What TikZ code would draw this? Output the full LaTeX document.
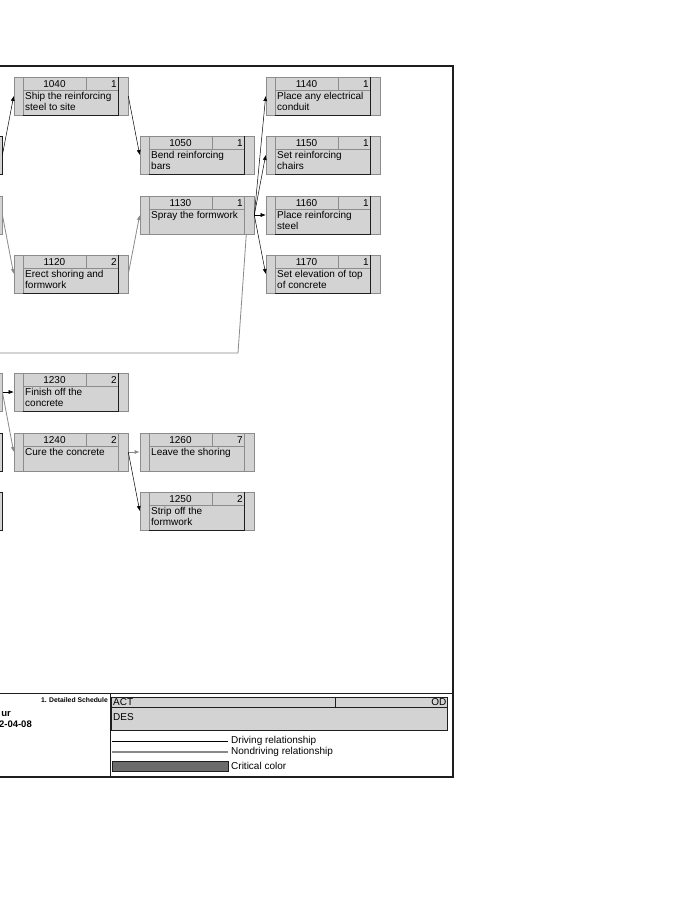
\documentclass[tikz,border=0pt]{standalone}
\usepackage{fontspec}
\setmainfont{Liberation Sans}
\usetikzlibrary{arrows.meta,calc}
\definecolor{boxfill}{HTML}{D3D3D3}
\definecolor{boxline}{HTML}{8C8C8C}
\definecolor{darkline}{HTML}{1E1E1E}
\definecolor{ndline}{HTML}{8A8A8A}
\definecolor{critcol}{HTML}{6B6B6B}
\tikzset{
  actbox/.style={draw=boxline, fill=boxfill, rectangle, minimum width=114pt, minimum height=38pt, inner sep=0pt, line width=0.6pt},
  stubbox/.style={fill=boxfill, rectangle, minimum width=114pt, minimum height=38pt, inner sep=0pt, line width=0.8pt},
  inline/.style={draw=boxline, line width=0.6pt},
  idtext/.style={inner sep=0pt, anchor=center, font=\fontsize{10}{11}\selectfont},
  durtext/.style={inner sep=0pt, anchor=east, font=\fontsize{10}{11}\selectfont},
  desctext/.style={inner sep=0pt, anchor=north west, align=left, font=\fontsize{10}{11}\selectfont},
  drive/.style={draw=black, line width=0.5pt, -{Latex[length=5pt,width=4pt]}},
  nondrive/.style={draw=ndline, line width=0.8pt, -{Latex[length=5pt,width=4pt]}},
  frameline/.style={draw=darkline, line width=1.3pt},
  sepline/.style={draw=darkline, line width=0.8pt},
  legtext/.style={inner sep=0pt, anchor=west, font=\fontsize{10}{11}\selectfont},
}
\newcommand\actv[7]{%
  \node[actbox] (#1) at (#2+57,#3+19) {};
  \draw[inline] (#2+9,#3) -- (#2+9,#3+38);
  \draw[inline] (#2+104,#3) -- (#2+104,#3+38);
  \draw[inline] (#2+9,#3+13) -- (#2+104,#3+13);
  \draw[inline] (#2+72,#3) -- (#2+72,#3+13);
  \draw[draw=#7, line width=1pt] (#2+9,#3+38) -- (#2+104,#3+38) -- (#2+104,#3);
  \node[idtext] (#1-id) at (#2+40.5,#3+6.6) {#4};
  \node[durtext] (#1-dur) at (#2+103,#3+6.6) {#5};
  \node[desctext] (#1-desc) at (#2+11,#3+15.5) {#6};
}
\begin{document}
\begin{tikzpicture}[x=1pt,y=-1pt]
\useasboundingbox (0,0) rectangle (700,900);
\fill[white] (0,0) rectangle (700,900);
\clip (0,0) rectangle (700,900);

% frame
\draw[frameline] (-5,66) -- (453,66) -- (453,777) -- (-5,777);
\draw[sepline] (-5,693) -- (453,693);
\draw[sepline] (110,693) -- (110,777);

% partially visible activities at the left edge
\node[stubbox, draw=darkline] (pa1) at (-55,155) {};
\node[stubbox, draw=boxline] (pa2) at (-55,215) {};
\node[stubbox, draw=boxline] (pa3) at (-55,392) {};
\node[stubbox, draw=darkline] (pa4) at (-55,452) {};
\node[stubbox, draw=darkline] (pa5) at (-55,511) {};

% activities
\actv{b1040}{14}{77}{1040}{1}{Ship the reinforcing\\steel to site}{darkline}
\actv{b1120}{14}{255}{1120}{2}{Erect shoring and\\formwork}{darkline}
\actv{b1230}{14}{373}{1230}{2}{Finish off the\\concrete}{darkline}
\actv{b1240}{14}{433}{1240}{2}{Cure the concrete}{boxline}
\actv{c1050}{140}{136}{1050}{1}{Bend reinforcing\\bars}{darkline}
\actv{c1130}{140}{196}{1130}{1}{Spray the formwork}{boxline}
\actv{c1260}{140}{433}{1260}{7}{Leave the shoring}{boxline}
\actv{c1250}{140}{492}{1250}{2}{Strip off the\\formwork}{darkline}
\actv{d1140}{266}{77}{1140}{1}{Place any electrical\\conduit}{darkline}
\actv{d1150}{266}{136}{1150}{1}{Set reinforcing\\chairs}{darkline}
\actv{d1160}{266}{196}{1160}{1}{Place reinforcing\\steel}{darkline}
\actv{d1170}{266}{255}{1170}{1}{Set elevation of top\\of concrete}{darkline}

% connectors
\draw[drive] (pa1.east) -- (b1040.west);
\draw[nondrive] (pa2.east) -- (b1120.west);
\draw[drive] (b1040.east) -- (c1050.west);
\draw[nondrive] (b1120.east) -- (c1130.west);
\draw[drive] (c1130.east) -- (d1140.west);
\draw[drive] (c1130.east) -- (d1150.west);
\draw[drive] (c1130.east) -- (d1160.west);
\draw[drive] (c1130.east) -- (d1170.west);
\draw[drive] (pa3.east) -- (b1230.west);
\draw[nondrive] (pa3.east) -- (b1240.west);
\draw[nondrive] (b1240.east) -- (c1260.west);
\draw[drive] (b1240.east) -- (c1250.west);
\coordinate (farleft) at (-5,353);
\coordinate (bendpt) at (238,353);
\draw[draw=ndline, line width=0.8pt] (farleft) -- (bendpt) -- ($(c1130.south east)+(-8,0)$);

% footer
\node[inner sep=0pt, anchor=east, font=\bfseries\fontsize{6.8}{8}\selectfont] (ftitle) at (108,700) {1. Detailed Schedule};
\node[inner sep=0pt, anchor=base east, font=\bfseries\fontsize{9.5}{11}\selectfont] (fname) at (11,716) {ur};
\node[inner sep=0pt, anchor=base east, font=\bfseries\fontsize{9.5}{11}\selectfont] (fdate) at (32,727) {2-04-08};

% legend box
\node[draw=darkline, fill=boxfill, rectangle, line width=0.6pt, minimum width=336pt, minimum height=33pt, inner sep=0pt] (legbox) at (279.5,713.5) {};
\draw[draw=darkline, line width=0.5pt] (112,707.5) -- (447,707.5);
\draw[draw=darkline, line width=0.5pt] (335,697) -- (335,707.5);
\node[inner sep=0pt, anchor=west, font=\fontsize{10}{11}\selectfont] (legact) at (113,702.5) {ACT};
\node[inner sep=0pt, anchor=east, font=\fontsize{10}{11}\selectfont] (legod) at (446.5,702.5) {OD};
\node[inner sep=0pt, anchor=west, font=\fontsize{10}{11}\selectfont] (legdes) at (113,717) {DES};

% legend lines
\coordinate (dl1) at (112,741);
\coordinate (dl2) at (228,741);
\draw[draw=black, line width=0.5pt] (dl1) -- (dl2);
\node[legtext] (legdrive) at (231,741) {Driving relationship};
\coordinate (nl1) at (112,752);
\coordinate (nl2) at (228,752);
\draw[draw=ndline, line width=1.2pt] (nl1) -- (nl2);
\node[legtext] (legnd) at (231,752) {Nondriving relationship};
\node[draw=darkline, fill=critcol, rectangle, line width=0.4pt, minimum width=116pt, minimum height=10pt, inner sep=0pt] (legcrit) at (170,766) {};
\node[legtext] (legcrittext) at (231,766) {Critical color};
\end{tikzpicture}
\end{document}
